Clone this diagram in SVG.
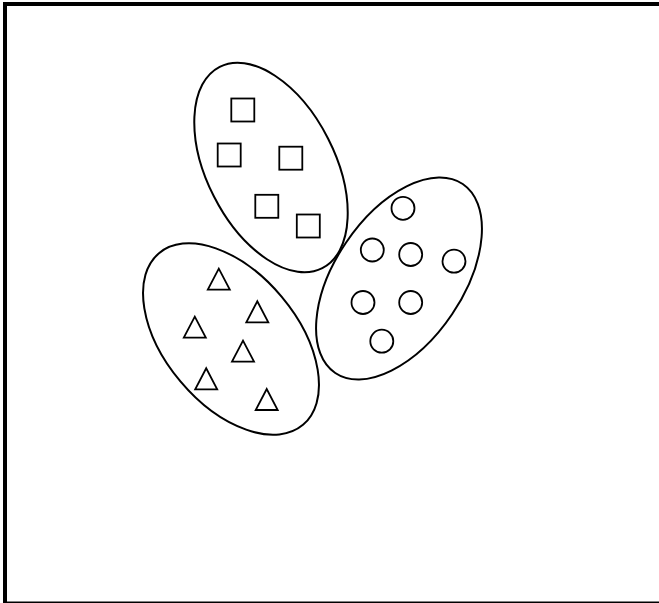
<svg xmlns="http://www.w3.org/2000/svg" xmlns:xlink="http://www.w3.org/1999/xlink" width="659" height="603" viewBox="0 0 659 603">
<style>
.grp{fill:none;stroke:#000;stroke-width:2}
.item{fill:none;stroke:#000;stroke-width:1.8}
</style>
<defs>
<rect id="sq" x="-11.5" y="-11.5" width="23" height="23"/>
<path id="tri" d="M-11,0 L11,0 L0,-21 Z"/>
<circle id="cir" r="11.5"/>
</defs>
<rect width="659" height="603" fill="#fff"/>
<rect x="5" y="4" width="662" height="599.5" fill="none" stroke="#000" stroke-width="4"/>
<g id="connectors"/>
<g id="squares">
<ellipse class="grp" cx="271" cy="167.5" rx="64" ry="113" transform="rotate(-27 271 167.5)"/>
<use xlink:href="#sq" class="item" x="242.8" y="110"/>
<use xlink:href="#sq" class="item" x="229.2" y="155"/>
<use xlink:href="#sq" class="item" x="290.8" y="158.2"/>
<use xlink:href="#sq" class="item" x="266.8" y="206.3"/>
<use xlink:href="#sq" class="item" x="308.3" y="226"/>
</g>
<g id="circles">
<ellipse class="grp" cx="399" cy="278.5" rx="64" ry="114" transform="rotate(34 399 278.5)"/>
<use xlink:href="#cir" class="item" x="403" y="208.3"/>
<use xlink:href="#cir" class="item" x="372.3" y="250"/>
<use xlink:href="#cir" class="item" x="410.7" y="254.5"/>
<use xlink:href="#cir" class="item" x="454" y="261.2"/>
<use xlink:href="#cir" class="item" x="363" y="302.5"/>
<use xlink:href="#cir" class="item" x="410.7" y="302.5"/>
<use xlink:href="#cir" class="item" x="381.8" y="341.2"/>
</g>
<g id="triangles">
<ellipse class="grp" cx="231" cy="339" rx="66" ry="112" transform="rotate(-40 231 339)"/>
<use xlink:href="#tri" class="item" x="218.8" y="289.7"/>
<use xlink:href="#tri" class="item" x="257.3" y="322.3"/>
<use xlink:href="#tri" class="item" x="194.8" y="337.7"/>
<use xlink:href="#tri" class="item" x="243" y="361.7"/>
<use xlink:href="#tri" class="item" x="206.2" y="389.3"/>
<use xlink:href="#tri" class="item" x="266.7" y="410"/>
</g>
</svg>
